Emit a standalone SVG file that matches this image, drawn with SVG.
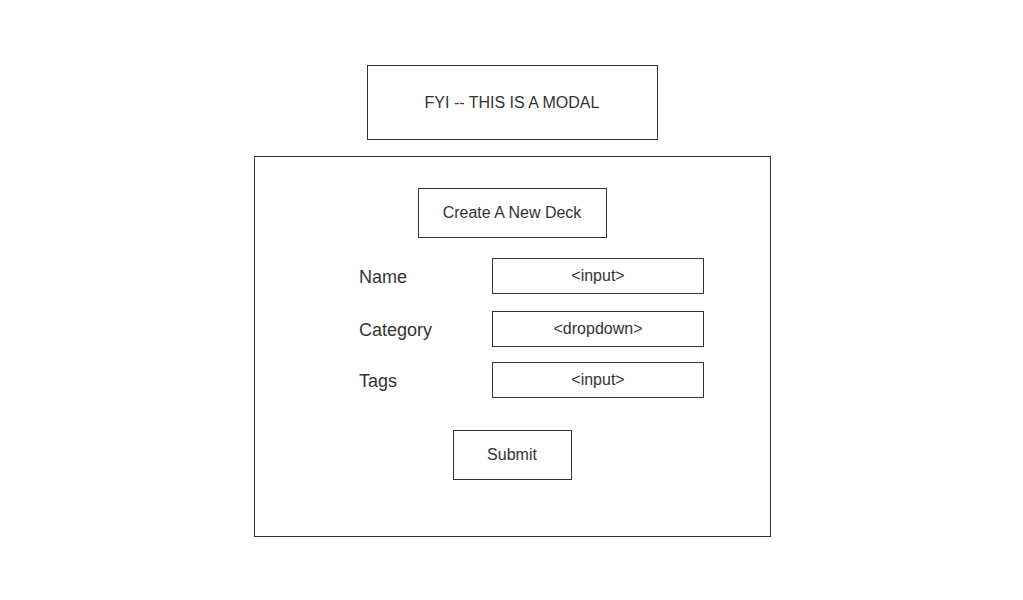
<svg xmlns="http://www.w3.org/2000/svg" width="1023" height="600" viewBox="0 0 1023 600">
<style>
.box{fill:#fff;stroke:#333;stroke-width:1}
.t{font-family:"Liberation Sans",Arial,sans-serif;font-size:16px;fill:#333;text-anchor:middle}
.l{font-family:"Liberation Sans",Arial,sans-serif;font-size:18px;fill:#333}
</style>
<rect width="1023" height="600" fill="#fff"/>
<g id="note"><rect class="box" x="367.5" y="65.5" width="290" height="74"/><text class="t" x="512" y="108">FYI -- THIS IS A MODAL</text></g>
<g id="modal"><rect class="box" x="254.5" y="156.5" width="516" height="380"/></g>
<g id="title"><rect class="box" x="418.5" y="188.5" width="188" height="49"/><text class="t" x="512" y="218">Create A New Deck</text></g>
<g id="name-label"><text class="l" x="359" y="283">Name</text></g>
<g id="category-label"><text class="l" x="359" y="336">Category</text></g>
<g id="tags-label"><text class="l" x="359" y="387">Tags</text></g>
<g id="name-input"><rect class="box" x="492.5" y="258.5" width="211" height="35"/><text class="t" x="598" y="281">&lt;input&gt;</text></g>
<g id="category-input"><rect class="box" x="492.5" y="311.5" width="211" height="35"/><text class="t" x="598" y="334">&lt;dropdown&gt;</text></g>
<g id="tags-input"><rect class="box" x="492.5" y="362.5" width="211" height="35"/><text class="t" x="598" y="385">&lt;input&gt;</text></g>
<g id="submit"><rect class="box" x="453.5" y="430.5" width="118" height="49"/><text class="t" x="512" y="460">Submit</text></g>
<g id="connectors"></g>
</svg>
